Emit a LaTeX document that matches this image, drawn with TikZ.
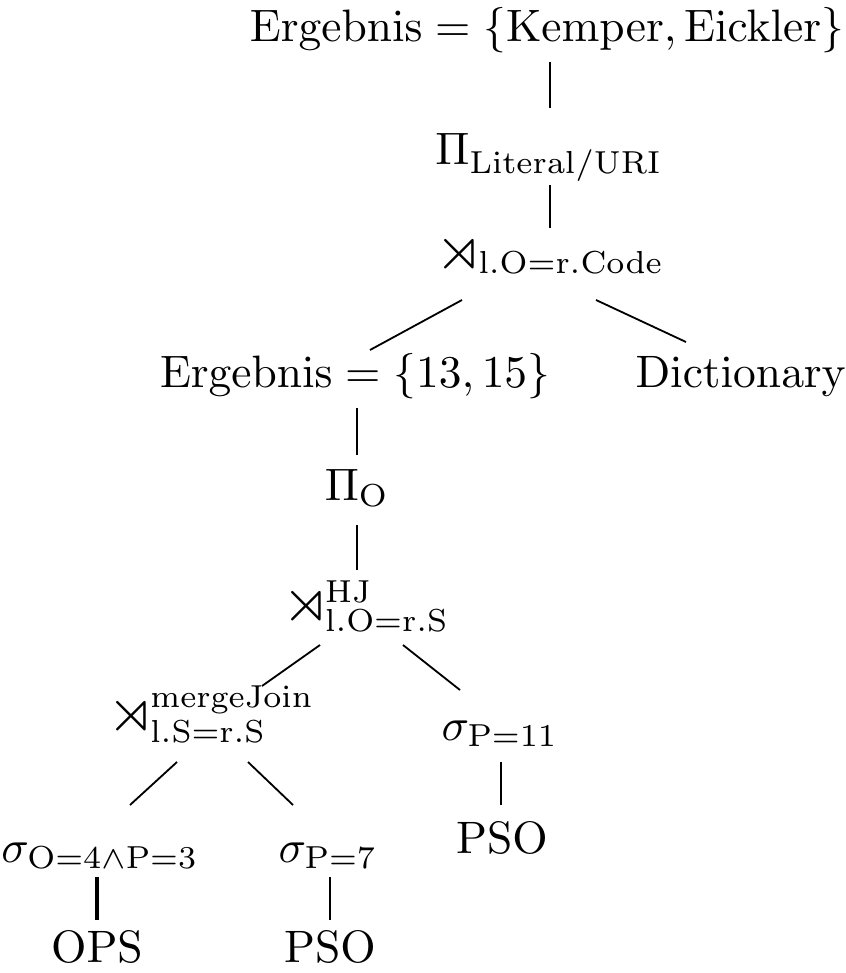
\documentclass[tikz,border=0pt]{standalone}
\usepackage{amsmath,amssymb}
\newcommand{\bigrt}{\mathord{\raisebox{-0.5pt}{\scalebox{1.35}{$\rtimes$}}}\mkern-2mu}
\begin{document}
\begin{tikzpicture}[x=0.22pt,y=-0.22pt,
  t/.style={inner sep=0pt, outer sep=0pt, anchor=base},
  e/.style={line width=0.4pt}]
\useasboundingbox (0,0) rectangle (845,973);
\node[t] (top) at (547,42) {$\mathrm{Ergebnis} = \{\mathrm{Kemper}, \mathrm{Eickler}\}$};
\node[t] (pi1) at (549,165) {$\Pi_{\mathrm{Literal/URI}}$};
\node[t] (j1) at (550,267) {$\bigrt_{\mathrm{l.O=r.Code}}$};
\node[t] (e2) at (355,387) {$\mathrm{Ergebnis} = \{13, 15\}$};
\node[t] (dic) at (741,387) {$\mathrm{Dictionary}$};
\node[t] (pi2) at (357,500) {$\Pi_{\mathrm{O}}$};
\node[t] (j2) at (366,619) {$\bigrt^{\mathrm{HJ}}_{\mathrm{l.O=r.S}}$};
\node[t] (j3) at (211,729) {$\bigrt^{\mathrm{mergeJoin}}_{\mathrm{l.S=r.S}}$};
\node[t] (s11) at (500,740) {$\sigma_{\mathrm{P=11}}$};
\node[t] (pso1) at (502,853) {$\mathrm{PSO}$};
\node[t] (s43) at (100,862) {$\sigma_{\mathrm{O=4\wedge P=3}}$};
\node[t] (s7) at (328,862) {$\sigma_{\mathrm{P=7}}$};
\node[t] (ops) at (97,962) {$\mathrm{OPS}$};
\node[t] (pso2) at (330,962) {$\mathrm{PSO}$};
\coordinate (c1a) at (550,62); \coordinate (c1b) at (550,108);
\coordinate (c2a) at (550,185); \coordinate (c2b) at (550,228);
\coordinate (c3a) at (462,300); \coordinate (c3b) at (370,350);
\coordinate (c4a) at (596,300); \coordinate (c4b) at (686,342);
\coordinate (c5a) at (357,408); \coordinate (c5b) at (357,455);
\coordinate (c6a) at (357,525); \coordinate (c6b) at (357,570);
\coordinate (c7a) at (320,645); \coordinate (c7b) at (262,686);
\coordinate (c8a) at (403,645); \coordinate (c8b) at (460,690);
\coordinate (c9a) at (501,762); \coordinate (c9b) at (501,805);
\coordinate (c10a) at (177,762); \coordinate (c10b) at (130,805);
\coordinate (c11a) at (248,762); \coordinate (c11b) at (293,805);
\coordinate (c12a) at (97,877); \coordinate (c12b) at (97,920);
\coordinate (c13a) at (330,877); \coordinate (c13b) at (330,920);
\draw[e] (c1a) -- (c1b);
\draw[e] (c2a) -- (c2b);
\draw[e] (c3a) -- (c3b);
\draw[e] (c4a) -- (c4b);
\draw[e] (c5a) -- (c5b);
\draw[e] (c6a) -- (c6b);
\draw[e] (c7a) -- (c7b);
\draw[e] (c8a) -- (c8b);
\draw[e] (c9a) -- (c9b);
\draw[e] (c10a) -- (c10b);
\draw[e] (c11a) -- (c11b);
\draw[line width=0.7pt] (c12a) -- (c12b);
\draw[e] (c13a) -- (c13b);
\end{tikzpicture}
\end{document}
